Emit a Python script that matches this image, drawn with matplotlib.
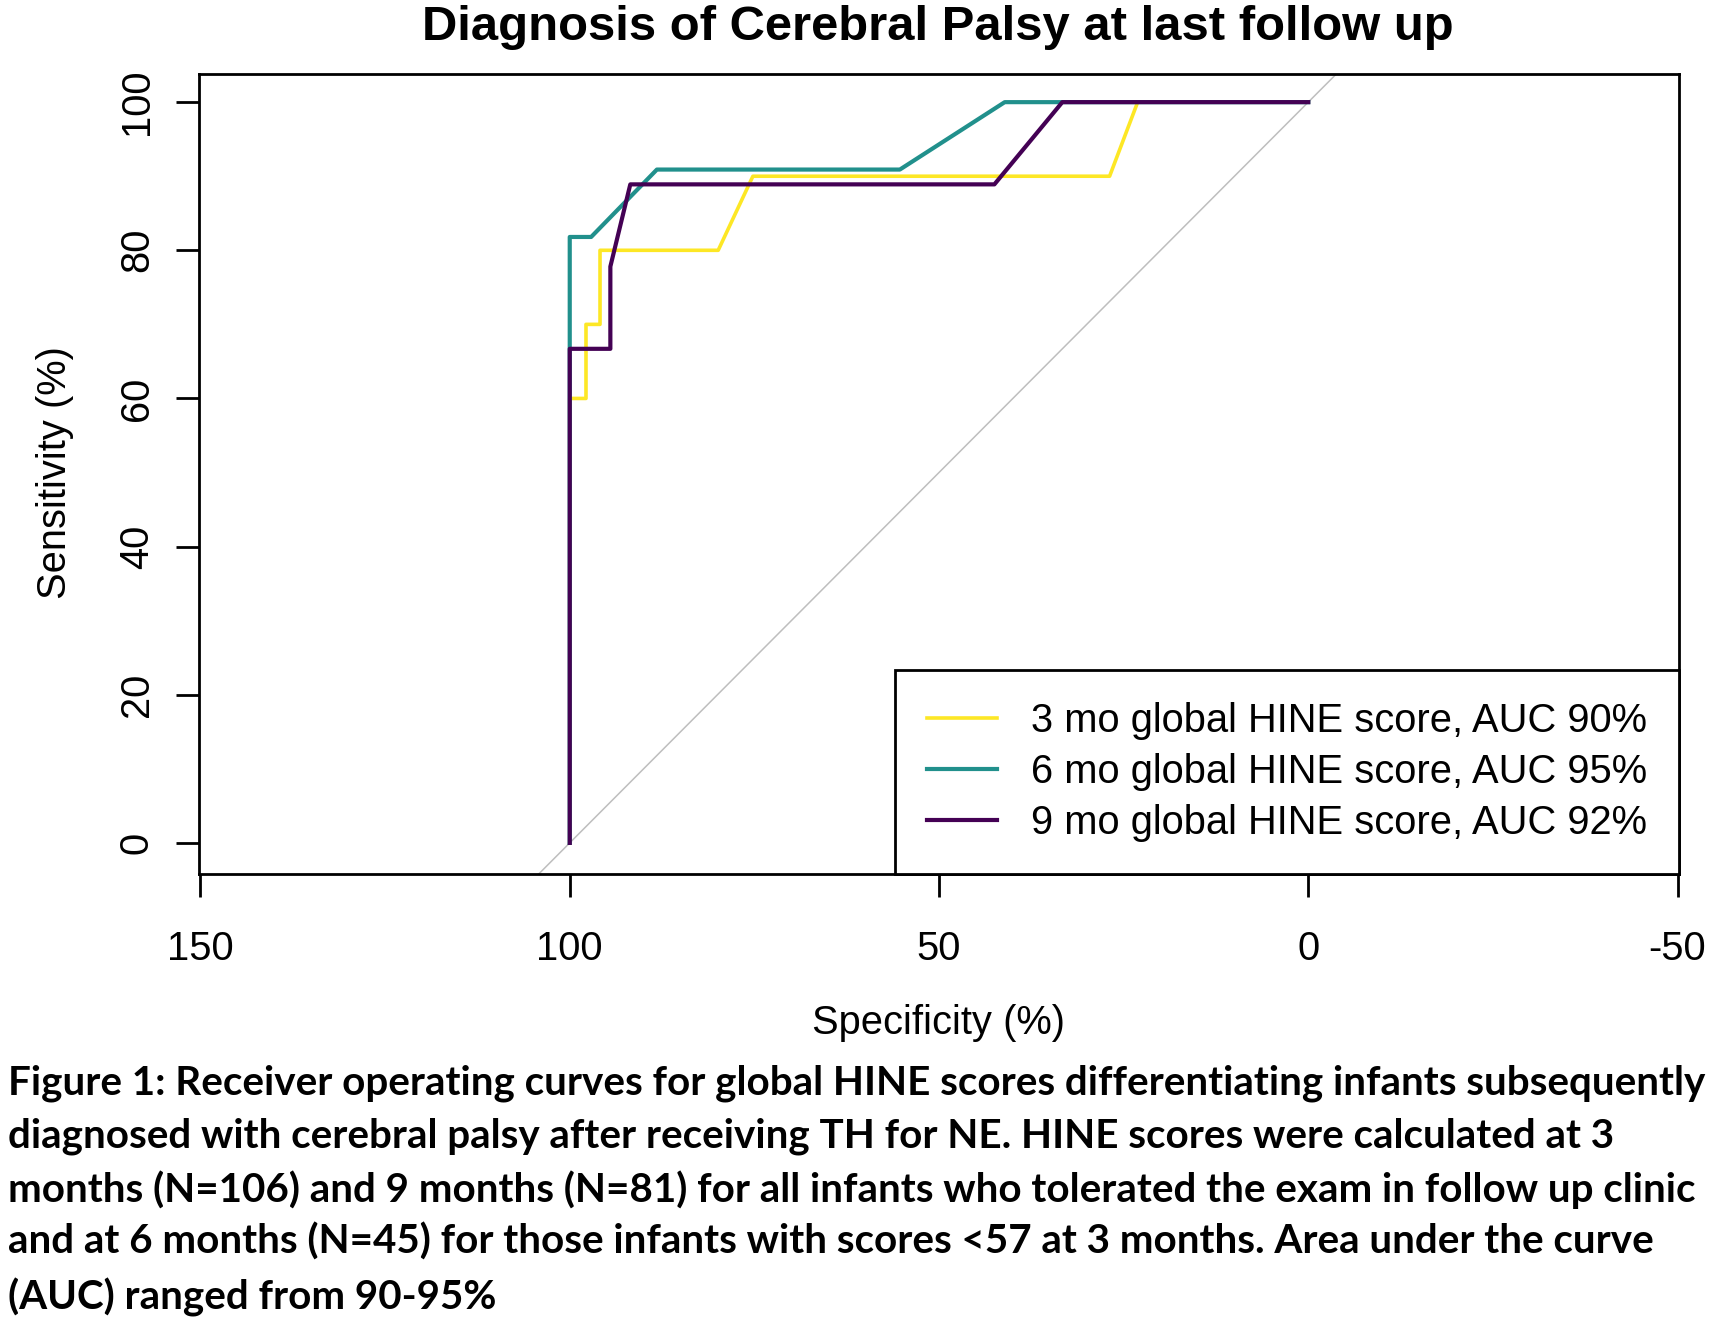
import matplotlib
matplotlib.use("Agg")
import matplotlib.pyplot as plt
from matplotlib import font_manager

# ---------------- data ----------------
spec_3mo = [100, 100, 97.8, 97.8, 95.9, 95.9, 79.9, 75.2, 26.9, 23.1, 0]
sens_3mo = [0, 60, 60, 70, 70, 80, 80, 90, 90, 100, 100]

spec_6mo = [100, 100, 97.1, 88.2, 55.3, 41.1, 0]
sens_6mo = [0, 81.8, 81.8, 90.9, 90.9, 100, 100]

spec_9mo = [100, 100, 94.5, 94.5, 91.8, 42.5, 33.3, 0]
sens_9mo = [0, 66.7, 66.7, 77.8, 88.9, 88.9, 100, 100]

series_labels = ["3 mo global HINE score, AUC 90%",
                 "6 mo global HINE score, AUC 95%",
                 "9 mo global HINE score, AUC 92%"]
series_colors = ["#FDE725", "#21908C", "#440154"]

x_ticks = [150, 100, 50, 0, -50]
y_ticks = [0, 20, 40, 60, 80, 100]

title = "Diagnosis of Cerebral Palsy at last follow up"
xlabel = "Specificity (%)"
ylabel = "Sensitivity (%)"
caption_lines = [
    "Figure 1: Receiver operating curves for global HINE scores differentiating infants subsequently",
    "diagnosed with cerebral palsy after receiving TH for NE. HINE scores were calculated at 3",
    "months (N=106) and 9 months (N=81) for all infants who tolerated the exam in follow up clinic",
    "and at 6 months (N=45) for those infants with scores <57 at 3 months. Area under the curve",
    "(AUC) ranged from 90-95%",
]

# ---------------- figure ----------------
W, H = 1724, 1326
DPI = 100
fig = plt.figure(figsize=(W / DPI, H / DPI), dpi=DPI)
renderer = fig.canvas.get_renderer()

names = {f.name for f in font_manager.fontManager.ttflist}
base = "Liberation Sans Narrow" if "Liberation Sans Narrow" in names else "Liberation Sans"
cap_font = "Lato" if "Lato" in names else "DejaVu Sans"


def fit_size(s, target_px, **kw):
    t = fig.text(0, 0, s, fontsize=20, **kw)
    w = t.get_window_extent(renderer=renderer).width
    t.remove()
    return 20.0 * target_px / w


fs = fit_size(series_labels[0], 616, family=base)
fs = min(fs, 34)
fs_title = fit_size(title, 1030, family=base, weight="bold")
fs_cap = fit_size(caption_lines[0], 1697, family=cap_font, weight="bold")

px = 0.72  # points per pixel

ax = fig.add_axes([199 / W, 1 - 874 / H, 1480 / W, 800 / H])
ax.set_xlim(150.2, -50.2)
ax.set_ylim(-4.2, 103.8)

ax.axline((100, 0), (0, 100), color="#BEBEBE", lw=1.1, zorder=1)

ax.plot(spec_3mo, sens_3mo, color=series_colors[0], lw=2.6, label=series_labels[0], zorder=2)
ax.plot(spec_6mo, sens_6mo, color=series_colors[1], lw=3.0, label=series_labels[1], zorder=3)
ax.plot(spec_9mo, sens_9mo, color=series_colors[2], lw=3.0, label=series_labels[2], zorder=4)

for sp in ax.spines.values():
    sp.set_linewidth(2.0)
    sp.set_color("black")

ax.set_xticks(x_ticks)
ax.set_xticklabels([str(v) for v in x_ticks])
ax.set_yticks(y_ticks)
ax.set_yticklabels([str(v) for v in y_ticks])
ax.tick_params(axis="both", direction="out", length=23 * px, width=2.0,
               labelsize=fs, color="black")
ax.tick_params(axis="x", pad=33 * px)
ax.tick_params(axis="y", pad=20 * px, labelrotation=90)
for lab in ax.get_xticklabels() + ax.get_yticklabels():
    lab.set_family(base)
for lab in ax.get_yticklabels():
    lab.set_va("center")

leg = ax.legend(loc="lower right", prop={"family": base, "size": fs},
                frameon=True, fancybox=False, edgecolor="black", framealpha=1,
                borderaxespad=0, borderpad=0.8, handlelength=1.75, handletextpad=0.85,
                labelspacing=0.33)
leg.get_frame().set_linewidth(2.0)

fig.text(938 / W, 1 - 27 / H, title, ha="center", va="center", family=base,
         weight="bold", fontsize=fs_title)
fig.text(939 / W, 1 - 1023 / H, xlabel, ha="center", va="center", family=base, fontsize=fs)
fig.text(55 / W, 1 - 473 / H, ylabel, ha="center", va="center", rotation=90,
         family=base, fontsize=fs)

cap_y = [1083, 1136, 1190, 1242, 1297]
for line, yy in zip(caption_lines, cap_y):
    fig.text(8 / W, 1 - yy / H, line, ha="left", va="center", family=cap_font,
             weight="bold", fontsize=fs_cap, color="black")

fig.savefig("out.png", dpi=DPI, facecolor="white")
